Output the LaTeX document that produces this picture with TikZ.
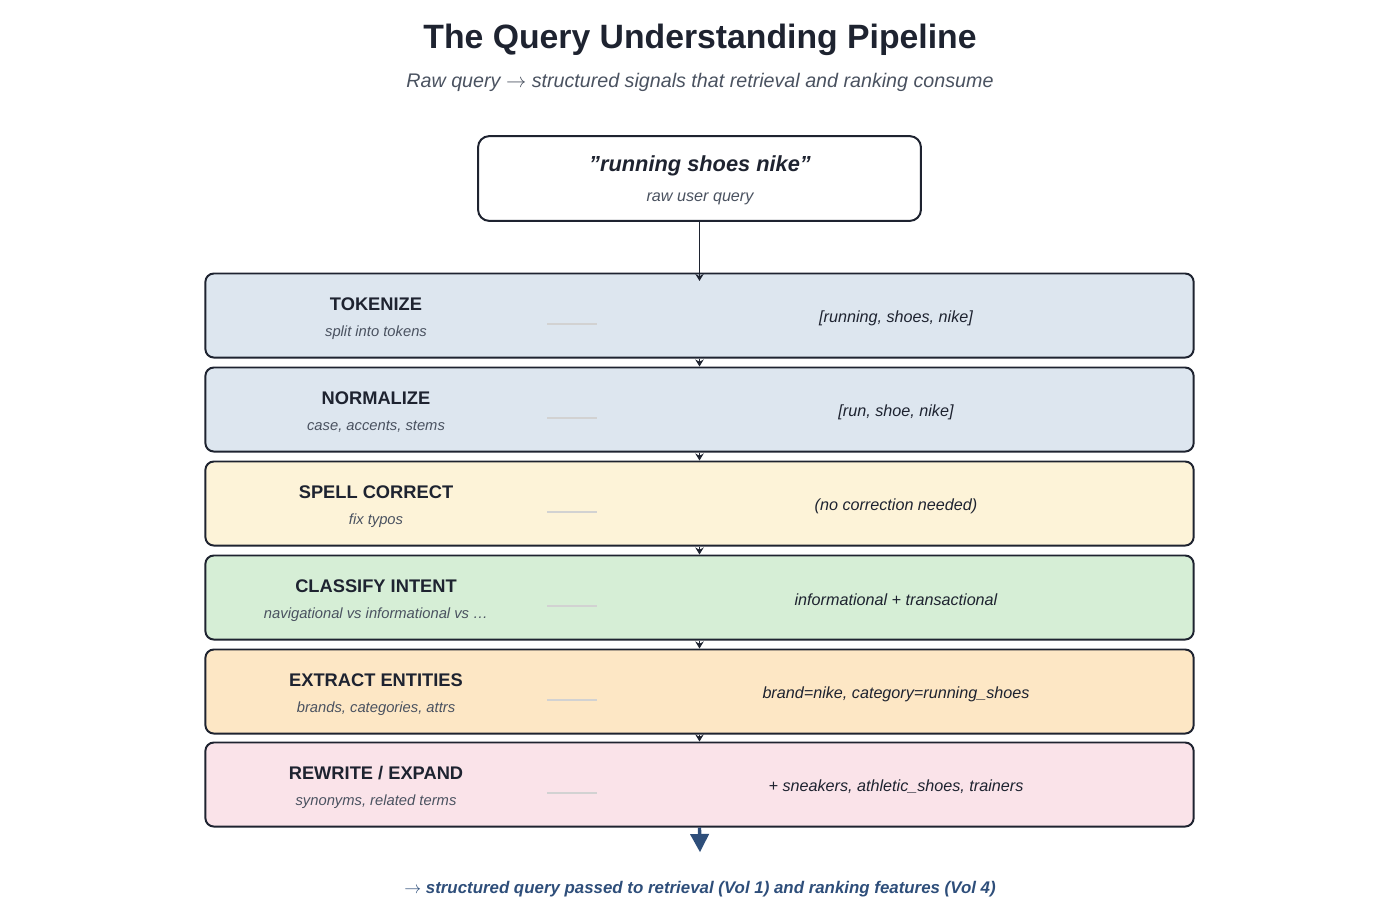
\documentclass[tikz,border=0pt]{standalone}
\usepackage{fontspec}
\setmainfont{Liberation Sans}
\usetikzlibrary{arrows.meta,positioning}

\definecolor{ink}{HTML}{1E2330}
\definecolor{greytext}{HTML}{4A5260}
\definecolor{navy}{HTML}{2E4E7A}
\definecolor{tokblue}{HTML}{DDE6EF}
\definecolor{spellyel}{HTML}{FDF3D8}
\definecolor{intgreen}{HTML}{D6EED6}
\definecolor{entorange}{HTML}{FDE7C5}
\definecolor{rewpink}{HTML}{FAE3E9}

\tikzset{
  stage/.style={draw=ink, line width=1.4pt, rounded corners=6pt, minimum width=24.7cm, minimum height=2.1cm, inner sep=0pt},
  stagetitle/.style={font=\fontsize{13}{15}\selectfont\bfseries, text=ink},
  stagesub/.style={font=\fontsize{10.5}{12}\selectfont\itshape, text=greytext},
  stageout/.style={font=\fontsize{11.5}{13}\selectfont\itshape, text=ink},
  link/.style={draw=ink, line width=1.3pt, -{Stealth[length=5pt,width=6pt]}}
}

\begin{document}
\begin{tikzpicture}[x=0.025cm,y=-0.025cm]
\useasboundingbox (0,0) rectangle (1400,921);
% title
\node[font=\fontsize{24}{28}\selectfont\bfseries, text=ink] (title) at (700,40) {The Query Understanding Pipeline};
\node[font=\fontsize{14}{16}\selectfont\itshape, text=greytext] (subtitle) at (700,82) {Raw query $\rightarrow$ structured signals that retrieval and ranking consume};
% raw query
\node[draw=ink, line width=1.4pt, rounded corners=8pt, fill=white, minimum width=11.07cm, minimum height=2.12cm] (raw) at (699.5,178.5) {};
\node[font=\fontsize{15.5}{18}\selectfont\bfseries\itshape, text=ink] (rawq) at (700,166) {"running shoes nike"};
\node[font=\fontsize{11.5}{13}\selectfont\itshape, text=greytext] (rawsub) at (700,199) {raw user query};
% stages
\foreach \i/\ty/\col/\name/\sub/\out in {
  1/273/tokblue/TOKENIZE/{split into tokens}/{[running, shoes, nike]},
  2/367/tokblue/NORMALIZE/{case, accents, stems}/{[run, shoe, nike]},
  3/461/spellyel/SPELL CORRECT/{fix typos}/{(no correction needed)},
  4/555/intgreen/CLASSIFY INTENT/{navigational vs informational vs \ldots}/{informational + transactional},
  5/649/entorange/EXTRACT ENTITIES/{brands, categories, attrs}/{brand=nike, category=running\_shoes},
  6/742/rewpink/{REWRITE / EXPAND}/{synonyms, related terms}/{+ sneakers, athletic\_shoes, trainers}} {
  \node[stage, fill=\col] (s\i) at (699.5,\ty+42.5) {};
  \node[stagetitle] (t\i) at (376,\ty+31) {\name};
  \node[stagesub] (u\i) at (376,\ty+60) {\sub};
  \draw[gray!35, line width=0.8pt] (547,\ty+51) -- (597,\ty+51);
  \node[stageout] (o\i) at (896,\ty+45) {\out};
}
\draw[link] (raw.south) -- ([yshift=-6pt]s1.north);
\foreach \a/\b in {1/2,2/3,3/4,4/5,5/6}
  \draw[link] (s\a.south) -- (s\b.north);
% output
\node[font=\fontsize{12}{14}\selectfont\bfseries\itshape, text=navy] (foot) at (700,889) {$\rightarrow$ structured query passed to retrieval (Vol 1) and ranking features (Vol 4)};
\draw[draw=navy, line width=2.4pt, -{Triangle[length=13pt,width=13pt]}] (s6.south) -- ([yshift=17pt]foot.north);
\end{tikzpicture}
\end{document}
